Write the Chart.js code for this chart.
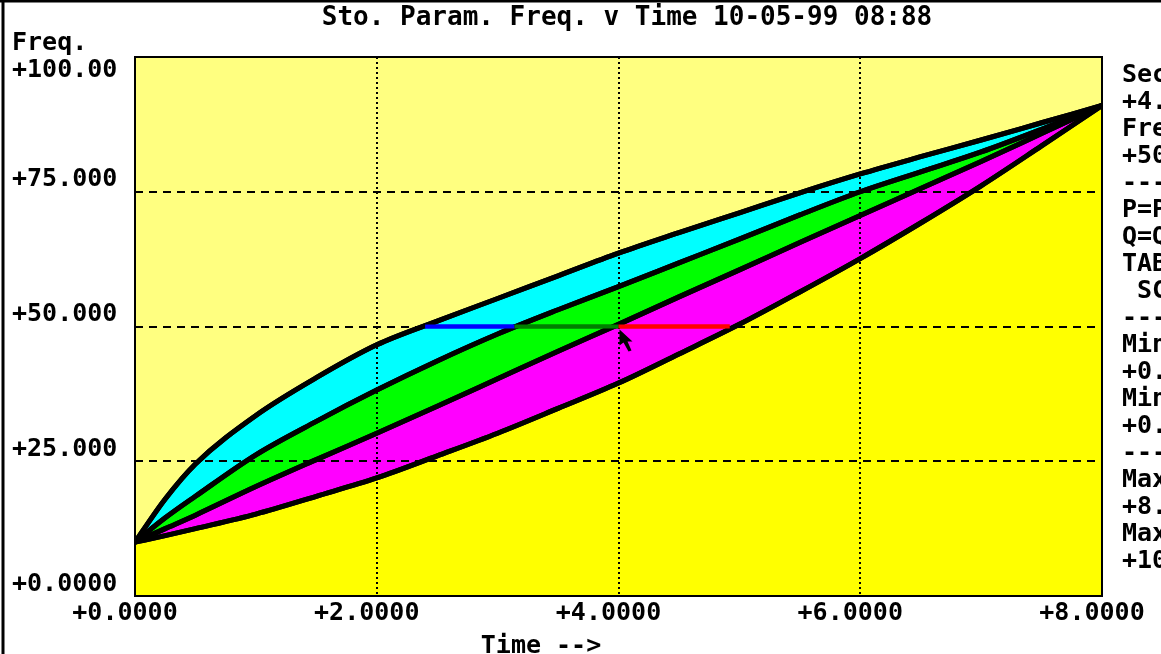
<!DOCTYPE html>
<html><head><meta charset="utf-8">
<script src="https://cdn.jsdelivr.net/npm/chart.js@4"></script>
<style>html,body{margin:0;padding:0;background:#fff;overflow:hidden}canvas{display:block}</style>
</head><body>
<canvas id="c" width="1161" height="654"></canvas>
<script>
// ---- data ----
const times       = [0, 0.25, 0.5, 1, 1.5, 2, 2.5, 3, 3.5, 4, 4.5, 5, 5.5, 6, 6.5, 7, 7.5, 8];
const topCurve    = [10, 18, 24.5, 33.5, 40.5, 46.6, 51, 55.2, 59.4, 63.6, 67.4, 71.1, 74.8, 78.3, 81.5, 84.6, 87.8, 91];
const upperMid    = [10, 14.5, 18.5, 26.2, 32.4, 38.2, 43.6, 48.6, 53.1, 57.4, 61.8, 66.2, 70.7, 75, 78.7, 82.4, 86.6, 91];
const lowerMid    = [10, 12.5, 15, 20.3, 25.3, 30.2, 35.2, 40.3, 45.4, 50.4, 55.5, 60.5, 65.6, 70.6, 75.6, 80.6, 85.8, 91];
const bottomCurve = [10, 11.2, 12.5, 15.2, 18.5, 21.9, 26, 30.2, 34.8, 39.5, 44.9, 50.4, 56.4, 62.6, 69.2, 76.1, 83.5, 91];
const cursorTime = 4;
const cursorFreq = 50;
const blueSeg  = [2.4, 3.14];
const greenSeg = [3.14, 4.0];
const redSeg   = [4.0, 4.92];
const xTickLabels = {0: '+0.0000', 2: '+2.0000', 4: '+4.0000', 6: '+6.0000', 8: '+8.0000'};
const yTickLabels = {0: '+0.0000', 25: '+25.000', 50: '+50.000', 75: '+75.000', 100: '+100.00'};
const titleText = 'Sto. Param. Freq. v Time 10-05-99 08:88';
const yAxisTitle = 'Freq.';
const xAxisTitle = 'Time -->';
const sidePanel = ['Sec.', '+4.0000', 'Freq.', '+50.000', '--------', 'P=Print', 'Q=Quit', 'TAB=Next', ' SCALE',
                   '--------', 'Min X', '+0.0000', 'Min Y', '+0.0000', '--------', 'Max X', '+8.0000', 'Max Y', '+100.00'];

const FONT = 'bold 25px "DejaVu Sans Mono", monospace';
const pts = arr => times.map((t, i) => ({x: t, y: arr[i]}));
const seg = s => [{x: s[0], y: cursorFreq}, {x: s[1], y: cursorFreq}];

const curve = (label, arr, fill, bg) => ({
  label, data: pts(arr), borderColor: '#000', borderWidth: 5, pointRadius: 0,
  cubicInterpolationMode: 'monotone', fill, backgroundColor: bg
});
const cursorLine = (label, s, col) => ({
  label, data: seg(s), borderColor: col, borderWidth: 4, pointRadius: 0, fill: false, tension: 0
});

const dosPlugin = {
  id: 'dos',
  beforeDraw(chart) {
    const {ctx, chartArea: a} = chart;
    ctx.save();
    ctx.fillStyle = '#fff';
    ctx.fillRect(0, 0, chart.width, chart.height);
    ctx.fillStyle = '#FFFF80';
    ctx.fillRect(a.left, a.top, a.right - a.left, a.bottom - a.top);
    ctx.restore();
  },
  afterDraw(chart) {
    const {ctx, chartArea: a, scales: {x, y}} = chart;
    // re-stroke outlines and cursor lines above the grid
    chart.data.datasets.forEach((d, i) => {
      const m = chart.getDatasetMeta(i);
      ctx.save();
      ctx.beginPath(); ctx.rect(a.left, a.top, a.right - a.left, a.bottom - a.top); ctx.clip();
      m.dataset.draw(ctx, a);
      ctx.restore();
    });
    ctx.save();
    // plot border
    ctx.strokeStyle = '#000'; ctx.lineWidth = 2;
    ctx.strokeRect(a.left, a.top, a.right - a.left, a.bottom - a.top);
    // outer frame
    ctx.lineWidth = 3;
    ctx.beginPath(); ctx.moveTo(3, 0); ctx.lineTo(3, chart.height); ctx.stroke();
    ctx.beginPath(); ctx.moveTo(0, 1); ctx.lineTo(chart.width, 1); ctx.stroke();
    // mouse pointer at the cursor
    const cx = x.getPixelForValue(cursorTime) + 1, cy = y.getPixelForValue(cursorFreq) + 3;
    const p = [[0,0],[0,16],[4,13],[9,22],[12,21],[8,12],[13,12]];
    ctx.fillStyle = '#000';
    ctx.beginPath(); ctx.moveTo(cx + p[0][0], cy + p[0][1]);
    p.slice(1).forEach(q => ctx.lineTo(cx + q[0], cy + q[1]));
    ctx.closePath(); ctx.fill();
    // texts
    ctx.fillStyle = '#000';
    ctx.font = FONT;
    ctx.textBaseline = 'middle';
    ctx.textAlign = 'left';
    y.ticks.forEach(t => {
      const lab = yTickLabels[t.value];
      if (lab === undefined) return;
      let py = y.getPixelForValue(t.value) - 12;
      py = Math.max(a.top + 13, Math.min(a.bottom - 7, py));
      ctx.fillText(lab, 12, py);
    });
    ctx.fillText(yAxisTitle, 12, 43);
    sidePanel.forEach((s, i) => ctx.fillText(s, a.right + 20, 75 + 27 * i));
    ctx.textAlign = 'center';
    ctx.fillText(xAxisTitle, 541, 646);
    ctx.font = 'bold 26px "DejaVu Sans Mono", monospace';
    ctx.fillText(titleText, 627, 18);
    ctx.restore();
  }
};

new Chart(document.getElementById('c'), {
  type: 'line',
  data: {
    datasets: [
      curve('Lower bound', bottomCurve, 'origin', '#FFFF00'),
      curve('Lower mid', lowerMid, '-1', '#FF00FF'),
      curve('Upper mid', upperMid, '-1', '#00FF00'),
      curve('Upper bound', topCurve, '-1', '#00FFFF'),
      cursorLine('Cursor A', blueSeg, '#0000FF'),
      cursorLine('Cursor B', greenSeg, '#007F00'),
      cursorLine('Cursor C', redSeg, '#FF0000')
    ]
  },
  options: {
    responsive: false,
    animation: false,
    devicePixelRatio: 1,
    layout: {padding: {top: 57, right: 59, left: 0, bottom: 0}},
    plugins: {
      legend: {display: false},
      tooltip: {enabled: false},
      filler: {drawTime: 'beforeDatasetsDraw'}
    },
    scales: {
      x: {
        type: 'linear', min: 0, max: 8, z: 1,
        ticks: {
          stepSize: 2, autoSkip: false, maxRotation: 0, minRotation: 0,
          color: '#000', font: {family: '"DejaVu Sans Mono", monospace', size: 25, weight: 'bold'},
          padding: 2, labelOffset: -10,
          callback: v => xTickLabels[v] ?? ''
        },
        grid: {
          z: 1, drawTicks: false, lineWidth: 2,
          color: c => (c.tick && (c.tick.value === 0 || c.tick.value === 8)) ? 'rgba(0,0,0,0)' : '#000'
        },
        border: {display: false, dash: [2, 3]},
        afterFit: s => { s.height = 58; s.paddingLeft = 0; s.paddingRight = 0; }
      },
      y: {
        type: 'linear', min: 0, max: 100, z: 1,
        ticks: {stepSize: 25, display: false},
        grid: {
          z: 1, drawTicks: false, lineWidth: 2,
          color: c => (c.tick && (c.tick.value === 0 || c.tick.value === 100)) ? 'rgba(0,0,0,0)' : '#000'
        },
        border: {display: false, dash: [8, 6]},
        afterFit: s => { s.width = 135; s.paddingTop = 0; s.paddingBottom = 0; }
      }
    }
  },
  plugins: [dosPlugin]
});
</script>
</body></html>
